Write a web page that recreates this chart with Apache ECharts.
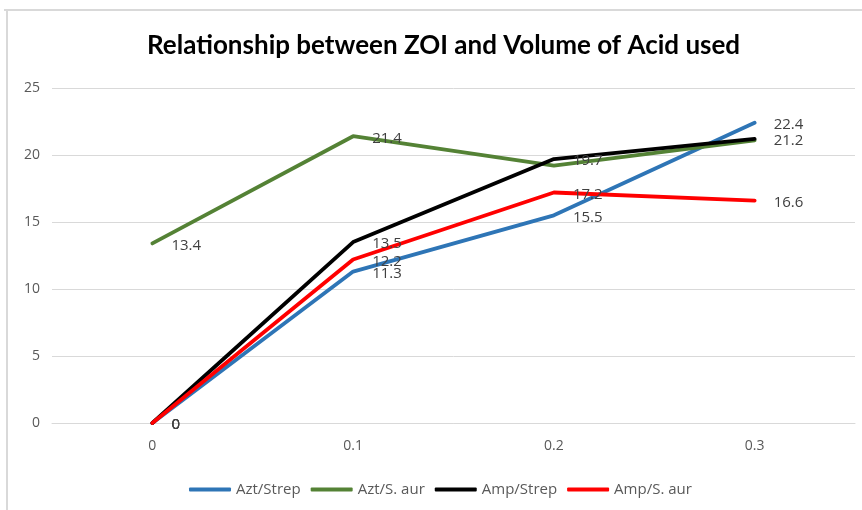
<!DOCTYPE html>
<html><head><meta charset="utf-8">
<script src="https://cdn.jsdelivr.net/npm/echarts@6/dist/echarts.min.js"></script>
<style>html,body{margin:0;padding:0;background:#fff}#c{width:862px;height:510px}</style>
</head><body><div id="c"></div>
<script>
const categories = ['0', '0.1', '0.2', '0.3'];
const aztStrep = [0, 11.3, 15.5, 22.4];
const aztSaur = [13.4, 21.4, 19.2, 21.1];
const ampStrep = [0, 13.5, 19.7, 21.2];
const ampSaur = [0, 12.2, 17.2, 16.6];
const yTicks = {min: 0, max: 25, interval: 5};

const chart = echarts.init(document.getElementById('c'));
const lbl = {show: true, position: 'right', distance: 19, offset: [0, 2], color: '#404040', fontSize: 15, fontFamily: 'Open Sans, sans-serif'};
function mk(name, data, color, hide) {
  return {
    name, type: 'line', data: data.map((v, i) => hide && hide.includes(i) ? {value: v, label: {show: false}} : v),
    symbol: 'circle', symbolSize: 0, showSymbol: true,
    lineStyle: {width: 3.8, color, cap: 'round', join: 'round'}, itemStyle: {color},
    label: lbl, z: 3
  };
}
chart.setOption({
  animation: false,
  graphic: [
    {type: 'line', shape: {x1: 7, y1: 10, x2: 7, y2: 510}, style: {stroke: '#d9d9d9', lineWidth: 2}},
    {type: 'line', shape: {x1: 4, y1: 10, x2: 862, y2: 10}, style: {stroke: '#d9d9d9', lineWidth: 2}}
  ],
  title: {text: 'Relationship between ZOI and Volume of Acid used', left: 142, top: 28,
    textStyle: {fontFamily: 'Lato, sans-serif', fontWeight: 'bold', fontSize: 26, color: '#000'}},
  grid: {left: 52, right: 7, top: 88, bottom: 87},
  xAxis: {type: 'category', data: categories, boundaryGap: true,
    axisLine: {show: true, lineStyle: {color: '#d9d9d9'}}, axisTick: {show: false},
    axisLabel: {color: '#595959', fontSize: 14, margin: 16, fontFamily: 'Open Sans, sans-serif'}},
  yAxis: {type: 'value', min: yTicks.min, max: yTicks.max, interval: yTicks.interval,
    axisLine: {show: false}, axisTick: {show: false},
    splitLine: {lineStyle: {color: '#d9d9d9', width: 1}},
    axisLabel: {color: '#595959', fontSize: 14, margin: 12, fontFamily: 'Open Sans, sans-serif'}},
  legend: {bottom: 8, left: 184, itemWidth: 42, itemHeight: 4, itemGap: 10, icon: 'roundRect',
    textStyle: {color: '#595959', fontSize: 15, fontFamily: 'Open Sans, sans-serif'}},
  series: [
    mk('Azt/Strep', aztStrep, '#2E75B6'),
    mk('Azt/S. aur', aztSaur, '#548235', [2, 3]),
    mk('Amp/Strep', ampStrep, '#000000'),
    mk('Amp/S. aur', ampSaur, '#FF0000')
  ]
});
</script></body></html>
